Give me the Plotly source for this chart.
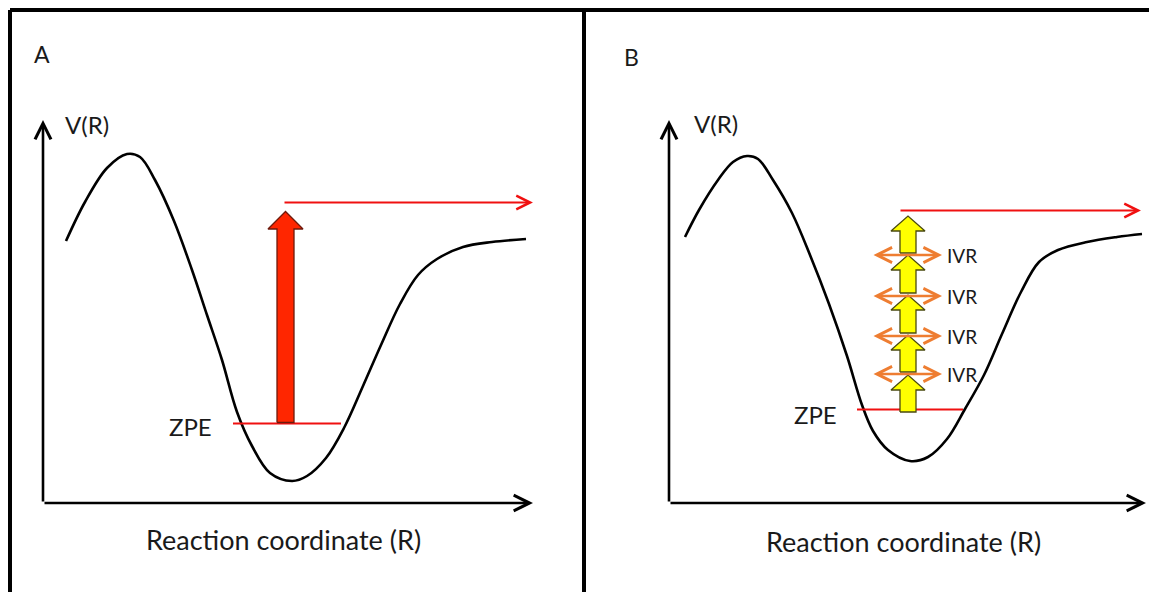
import plotly.graph_objects as go

# Potential energy curves.
# R and V in arbitrary units, origin at the corner of each pair of axes.
r_a = [2.3, 4.2, 6.4, 8.4, 9.7, 11.2, 13.1, 14.9, 16.4, 17.9, 19.4, 20.9, 22.7,
       24.9, 26.4, 28.3, 30.1, 32.0, 33.8, 35.7, 37.5, 39.4, 42.0, 44.9, 48.3]
v_a = [25.9, 29.8, 33.2, 34.6, 34.3, 32.0, 27.9, 23.0, 18.5, 14.0, 8.8, 5.4, 2.7,
       1.9, 2.4, 4.2, 7.2, 11.4, 15.5, 19.6, 22.5, 24.1, 25.3, 25.8, 26.1]

r_b = [1.6, 3.0, 4.9, 6.4, 7.8, 8.9, 10.4, 12.3, 14.1, 16.0, 17.8, 19.3, 20.4,
       21.9, 24.1, 25.9, 27.8, 29.6, 31.5, 33.3, 35.2, 37.0, 38.9, 41.8, 44.8, 47.3]
v_b = [26.4, 29.1, 32.1, 33.9, 34.5, 34.2, 32.1, 28.8, 24.6, 19.7, 14.5, 9.6, 7.0,
       5.1, 4.0, 4.4, 6.2, 9.2, 12.6, 16.7, 20.9, 23.9, 25.1, 25.9, 26.4, 26.7]

# panel A: zero point energy, dissociation level, one big excitation
zpe_a = 7.65
zpe_a_r = [19.0, 29.8]
diss_a = 29.75
diss_a_r = [24.0, 49.0]
pump_r = 24.25
pump_v = [7.75, 28.85]

# panel B: stepwise excitation with IVR in between
zpe_b = 9.15
zpe_b_r = [18.8, 29.4]
diss_b = 29.05
diss_b_r = [23.0, 47.2]
step_r = 23.9
step_lo = [8.9, 12.9, 16.8, 20.8, 24.8]
step_hi = [12.6, 16.6, 20.6, 24.6, 28.5]
ivr_v = [12.7, 16.5, 20.5, 24.6]
ivr_r = [20.3, 27.3]
ivr_text = ["IVR", "IVR", "IVR", "IVR"]

# axis corner and arrow tips (R tip, V tip, V of the R axis)
axis_a = [49.0, 38.0, -0.3]
axis_b = [47.7, 38.1, -0.2]

W, H = 1149, 592
split = 584 / W
FONT = "Lato"
TXT = "#1a1a1a"
RED = "#f01010"
ORANGE = "#ee7d31"


def block_arrow(xc, y0, y1, shaft, head, head_len):
    yb = y1 - head_len
    xs = [xc - shaft, xc + shaft, xc + shaft, xc + head, xc, xc - head, xc - shaft, xc - shaft]
    ys = [y0, y0, yb, yb, y1, yb, yb, y0]
    return xs, ys


fig = go.Figure()

# curves
fig.add_trace(go.Scatter(x=r_a, y=v_a, mode="lines", line=dict(color="black", width=2.6, shape="spline"),
                         xaxis="x", yaxis="y"))
fig.add_trace(go.Scatter(x=r_b, y=v_b, mode="lines", line=dict(color="black", width=2.6, shape="spline"),
                         xaxis="x2", yaxis="y2"))

# ZPE lines
fig.add_trace(go.Scatter(x=zpe_a_r, y=[zpe_a, zpe_a], mode="lines", line=dict(color=RED, width=2),
                         xaxis="x", yaxis="y"))
fig.add_trace(go.Scatter(x=zpe_b_r, y=[zpe_b, zpe_b], mode="lines", line=dict(color=RED, width=2),
                         xaxis="x2", yaxis="y2"))

# big red excitation arrow
xs, ys = block_arrow(pump_r, pump_v[0], pump_v[1], 0.85, 1.75, 1.75)
fig.add_trace(go.Scatter(x=xs, y=ys, mode="lines", fill="toself", fillcolor="#ff2600",
                         line=dict(color="#6e1a0c", width=1.3), xaxis="x", yaxis="y"))

# yellow step arrows
for lo, hi in zip(step_lo, step_hi):
    xs, ys = block_arrow(step_r, lo, hi, 0.8, 1.7, 1.5)
    fig.add_trace(go.Scatter(x=xs, y=ys, mode="lines", fill="toself", fillcolor="#ffff00",
                             line=dict(color="#4a4a10", width=1.3), xaxis="x2", yaxis="y2"))

ann = []


def arrow(x, y, ax, ay, xr, yr, color, width, size, both=False):
    d = dict(x=x, y=y, ax=ax, ay=ay, xref=xr, yref=yr, axref=xr, ayref=yr, text="",
             showarrow=True, arrowhead=5, arrowsize=size, arrowwidth=width, arrowcolor=color)
    if both:
        d.update(arrowside="end+start", startarrowhead=5, startarrowsize=size)
    ann.append(d)


# axes
for ax_, xr, yr in [(axis_a, "x", "y"), (axis_b, "x2", "y2")]:
    arrow(ax_[0], ax_[2], 0, ax_[2], xr, yr, "black", 2.6, 1.2)
    arrow(0, ax_[1], 0, ax_[2], xr, yr, "black", 2.6, 1.2)

# dissociation arrows
arrow(diss_a_r[1], diss_a, diss_a_r[0], diss_a, "x", "y", RED, 2, 1.35)
arrow(diss_b_r[1], diss_b, diss_b_r[0], diss_b, "x2", "y2", RED, 2, 1.35)

# IVR double arrows and labels
for v, t in zip(ivr_v, ivr_text):
    arrow(ivr_r[1], v, ivr_r[0], v, "x2", "y2", ORANGE, 2.4, 1.25, both=True)
    ann.append(dict(x=ivr_r[1] + 0.3, y=v, xref="x2", yref="y2", text=t, showarrow=False,
                    xanchor="left", yanchor="middle", font=dict(family=FONT, size=19, color=TXT)))


def label(x, y, xr, yr, text, size, xanchor="center"):
    ann.append(dict(x=x, y=y, xref=xr, yref=yr, text=text, showarrow=False,
                    xanchor=xanchor, yanchor="middle", font=dict(family=FONT, size=size, color=TXT)))


label(-0.1, 44.6, "x", "y", "A", 23)
label(-3.8, 44.4, "x2", "y2", "B", 23)
label(2.0, 37.6, "x", "y", "V(R)", 24, "left")
label(2.3, 37.8, "x2", "y2", "V(R)", 24, "left")
label(17.1, 7.4, "x", "y", "ZPE", 24, "right")
label(17.0, 8.7, "x2", "y2", "ZPE", 24, "right")
label(24.0, -3.9, "x", "y", "Reaction coordinate (R)", 27)
label(23.4, -4.0, "x2", "y2", "Reaction coordinate (R)", 27)

# panel frames
frame = dict(type="line", xref="paper", yref="paper", line=dict(color="black", width=4))
shapes = [
    dict(frame, x0=10 / W, x1=1, y0=1 - 10 / H, y1=1 - 10 / H),
    dict(frame, x0=10 / W, x1=10 / W, y0=0, y1=1 - 10 / H),
    dict(frame, x0=split, x1=split, y0=0, y1=1 - 10 / H),
]

hidden = dict(visible=False, fixedrange=True)
fig.update_layout(
    width=W, height=H,
    margin=dict(l=0, r=0, t=0, b=0),
    paper_bgcolor="white", plot_bgcolor="white",
    showlegend=False,
    xaxis=dict(hidden, domain=[0, split], range=[-4.3, 54.1]),
    yaxis=dict(hidden, domain=[0, 1], range=[-9.2, 50.0]),
    xaxis2=dict(hidden, domain=[split, 1], range=[-8.5, 48.0], anchor="y2"),
    yaxis2=dict(hidden, domain=[0, 1], range=[-9.1, 50.1], anchor="x2"),
    annotations=ann,
    shapes=shapes,
)

fig.write_html("out.html", config={"displayModeBar": False},
               post_script="document.body.style.margin='0';")
